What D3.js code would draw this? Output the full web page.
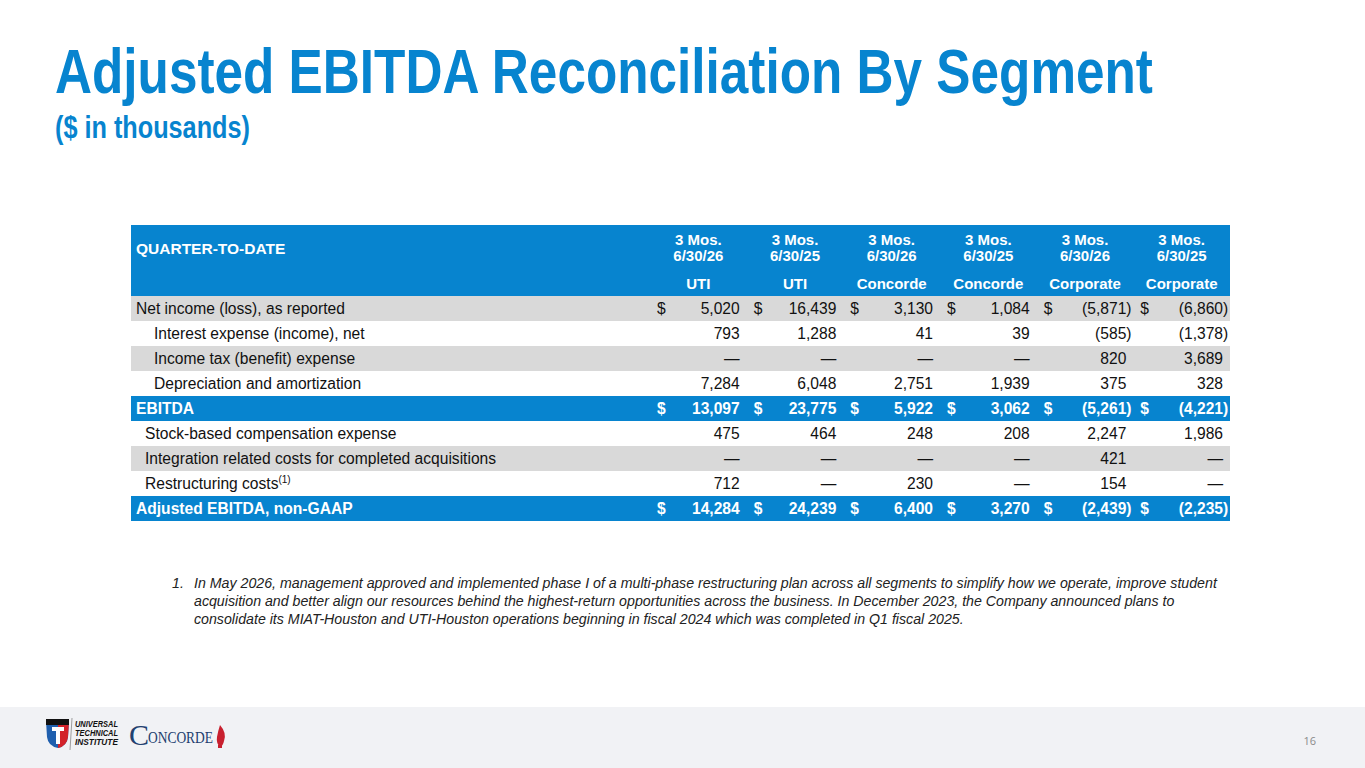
<!DOCTYPE html>
<html>
<head>
<meta charset="utf-8">
<script src="https://cdn.jsdelivr.net/npm/d3@7/dist/d3.min.js"></script>
<style>
  html, body { margin: 0; padding: 0; background: #fff; }
  svg { display: block; }
</style>
</head>
<body>
<svg id="chart" width="1365" height="768"></svg>
<script>
// ---------------- DATA ----------------
const titleText = "Adjusted EBITDA Reconciliation By Segment";
const subtitleText = "($ in thousands)";
const sectionLabel = "QUARTER-TO-DATE";
const periodLabels = ["3 Mos.", "3 Mos.", "3 Mos.", "3 Mos.", "3 Mos.", "3 Mos."];
const dateLabels = ["6/30/26", "6/30/25", "6/30/26", "6/30/25", "6/30/26", "6/30/25"];
const segmentLabels = ["UTI", "UTI", "Concorde", "Concorde", "Corporate", "Corporate"];
const rowLabels = [
  "Net income (loss), as reported",
  "Interest expense (income), net",
  "Income tax (benefit) expense",
  "Depreciation and amortization",
  "EBITDA",
  "Stock-based compensation expense",
  "Integration related costs for completed acquisitions",
  "Restructuring costs",
  "Adjusted EBITDA, non-GAAP"
];
const rowFootnoteRefs = [null, null, null, null, null, null, null, "(1)", null];
const netIncome      = [5020, 16439, 3130, 1084, -5871, -6860];
const interestExp    = [793, 1288, 41, 39, -585, -1378];
const incomeTax      = [null, null, null, null, 820, 3689];
const depreciation   = [7284, 6048, 2751, 1939, 375, 328];
const ebitda         = [13097, 23775, 5922, 3062, -5261, -4221];
const stockComp      = [475, 464, 248, 208, 2247, 1986];
const integration    = [null, null, null, null, 421, null];
const restructuring  = [712, null, 230, null, 154, null];
const adjustedEbitda = [14284, 24239, 6400, 3270, -2439, -2235];
const rowValues = [netIncome, interestExp, incomeTax, depreciation, ebitda,
                   stockComp, integration, restructuring, adjustedEbitda];
const footnoteNumber = "1.";
const footnoteLines = [
  "In May 2026, management approved and implemented phase I of a multi-phase restructuring plan across all segments to simplify how we operate, improve student",
  "acquisition and better align our resources behind the highest-return opportunities across the business. In December 2023, the Company announced plans to",
  "consolidate its MIAT-Houston and UTI-Houston operations beginning in fiscal 2024 which was completed in Q1 fiscal 2025."
];
const pageNumber = "16";

// ---------------- STRUCTURE ----------------
const totalRows = new Set([4, 8]);          // blue total rows
const dollarRows = new Set([0, 4, 8]);      // rows showing $ signs
const grayRows = new Set([0, 2, 6]);        // shaded rows
const indentLevel = [0, 2, 2, 2, 0, 1, 1, 1, 0];

// ---------------- DRAW ----------------
const BLUE = "#0784CF";
const GRAY = "#D9D9D9";
const TEXT = "#111111";
const FONT = "'Liberation Sans', Arial, Helvetica, sans-serif";
const NARROW = "'Liberation Sans Narrow', 'Arial Narrow', 'Liberation Sans', Arial, sans-serif";

const svg = d3.select("#chart");

// title: fitted horizontally by a scale transform
function fittedText(str, x0, y0, size, width) {
  const t = svg.append("text")
    .attr("x", 0).attr("y", 0)
    .attr("font-family", NARROW).attr("font-weight", "bold")
    .attr("font-size", size).attr("fill", BLUE)
    .text(str);
  const w = t.node().getComputedTextLength();
  t.attr("transform", `translate(${x0},${y0}) scale(${width / w},1)`);
  return t;
}
fittedText(titleText, 55, 93, 63, 1098);
fittedText(subtitleText, 55, 138, 31, 195);

// table scales
const tableLeft = 131, tableRight = 1230;
const x = d3.scaleBand().domain(d3.range(segmentLabels.length)).range([650, tableRight]);
const y = d3.scaleBand().domain(d3.range(rowLabels.length)).range([296, 521]);
const headerTop = 225, headerBottom = 296;

// header background
svg.append("rect")
  .attr("x", tableLeft).attr("y", headerTop)
  .attr("width", tableRight - tableLeft).attr("height", headerBottom - headerTop)
  .attr("fill", BLUE);

svg.append("text")
  .attr("x", 136).attr("y", 254)
  .attr("font-family", FONT).attr("font-weight", "bold").attr("font-size", 15.5)
  .attr("fill", "#fff").text(sectionLabel);

const hdr = svg.append("g").attr("font-family", FONT).attr("font-weight", "bold")
  .attr("font-size", 15).attr("fill", "#fff").attr("text-anchor", "middle");
hdr.selectAll("text.p").data(periodLabels).join("text").attr("class", "p")
  .attr("x", (d, i) => x(i) + x.bandwidth() / 2).attr("y", 245).text(d => d);
hdr.selectAll("text.d").data(dateLabels).join("text").attr("class", "d")
  .attr("x", (d, i) => x(i) + x.bandwidth() / 2).attr("y", 261).text(d => d);
hdr.selectAll("text.s").data(segmentLabels).join("text").attr("class", "s")
  .attr("x", (d, i) => x(i) + x.bandwidth() / 2).attr("y", 289).text(d => d);

// rows
const rows = svg.append("g").selectAll("g.row").data(rowLabels).join("g")
  .attr("class", "row")
  .attr("transform", (d, i) => `translate(0,${y(i)})`);

rows.append("rect")
  .attr("x", tableLeft).attr("y", 0)
  .attr("width", tableRight - tableLeft).attr("height", y.bandwidth())
  .attr("fill", (d, i) => totalRows.has(i) ? BLUE : grayRows.has(i) ? GRAY : "none");

const indentPx = [136, 145, 154];
const labelText = rows.append("text")
  .attr("x", (d, i) => indentPx[indentLevel[i]])
  .attr("y", 18)
  .attr("font-family", FONT).attr("font-size", 15.6)
  .attr("font-weight", (d, i) => totalRows.has(i) ? "bold" : "normal")
  .attr("fill", (d, i) => totalRows.has(i) ? "#fff" : TEXT);
labelText.append("tspan").text(d => d);
labelText.filter((d, i) => rowFootnoteRefs[i])
  .append("tspan").attr("font-size", 10).attr("dy", -6)
  .text(d => rowFootnoteRefs[rowLabels.indexOf(d)]);

const fmt = d3.format(",");
rows.each(function (label, ri) {
  const g = d3.select(this);
  const isTotal = totalRows.has(ri);
  const color = isTotal ? "#fff" : TEXT;
  const weight = isTotal ? "bold" : "normal";
  rowValues[ri].forEach((v, ci) => {
    const right = x(ci) + x.bandwidth() - 7;
    if (dollarRows.has(ri)) {
      g.append("text").attr("x", x(ci) + 7).attr("y", 18)
        .attr("font-family", FONT).attr("font-size", 15.6)
        .attr("font-weight", weight).attr("fill", color).text("$");
    }
    let str;
    if (v === null) str = "\u2014";
    else if (v < 0) str = "(" + fmt(-v);
    else str = fmt(v);
    g.append("text").attr("x", right).attr("y", 18)
      .attr("text-anchor", "end")
      .attr("font-family", FONT).attr("font-size", 15.6)
      .attr("font-weight", weight).attr("fill", color).text(str);
    if (v !== null && v < 0) {
      g.append("text").attr("x", right).attr("y", 18)
        .attr("font-family", FONT).attr("font-size", 15.6)
        .attr("font-weight", weight).attr("fill", color).text(")");
    }
  });
});

// footnote
const fn = svg.append("g").attr("font-family", FONT).attr("font-style", "italic")
  .attr("font-size", 14.2).attr("fill", "#222");
fn.append("text").attr("x", 172).attr("y", 588).text(footnoteNumber);
fn.selectAll("text.l").data(footnoteLines).join("text").attr("class", "l")
  .attr("x", 194).attr("y", (d, i) => 588 + i * 18.2).text(d => d);

// footer band
svg.append("rect").attr("x", 0).attr("y", 707).attr("width", 1365).attr("height", 61)
  .attr("fill", "#F1F2F5");
svg.append("text").attr("x", 1316).attr("y", 745).attr("text-anchor", "end")
  .attr("font-family", "'Open Sans', 'Liberation Sans', sans-serif").attr("font-size", 11)
  .attr("fill", "#8a8a8a").text(pageNumber);

// UTI logo (simplified)
const logo = svg.append("g");
logo.append("path").attr("d", "M46,721 L69,721 L68,737 Q67,746 58,748 Q48,746 47,737 Z").attr("fill", "#1f5fae");
logo.append("path").attr("d", "M58,721 L69,721 L68,737 Q67,746 58,748 Z").attr("fill", "#d3222a");
logo.append("rect").attr("x", 46).attr("y", 719).attr("width", 23).attr("height", 6).attr("fill", "#111");
logo.append("path").attr("d", "M52,727 L64,727 L64,731 L60,731 L60,744 L56,744 L56,731 L52,731 Z").attr("fill", "#fff");
logo.append("line").attr("x1", 72).attr("y1", 718).attr("x2", 70).attr("y2", 750)
  .attr("stroke", "#888").attr("stroke-width", 0.8);
const uti = logo.append("g").attr("font-family", FONT).attr("font-weight", "bold")
  .attr("font-style", "italic").attr("font-size", 8.5).attr("fill", "#111");
["UNIVERSAL", "TECHNICAL", "INSTITUTE"].forEach((t, i) => {
  uti.append("text").attr("x", 75).attr("y", 727 + i * 9).attr("textLength", 43)
    .attr("lengthAdjust", "spacingAndGlyphs").text(t);
});
// Concorde logo (simplified)
logo.append("text").attr("x", 129).attr("y", 745)
  .attr("font-family", "'Liberation Serif', 'DejaVu Serif', serif")
  .attr("fill", "#22406f").attr("font-size", 30).text("C");
logo.append("text").attr("x", 148).attr("y", 743)
  .attr("font-family", "'Liberation Serif', 'DejaVu Serif', serif")
  .attr("fill", "#22406f").attr("font-size", 17)
  .attr("textLength", 65).attr("lengthAdjust", "spacingAndGlyphs").text("ONCORDE");
logo.append("path").attr("d", "M220,725 Q227,733 224,741 Q223,746 220,747 Q216,743 217,737 Q218,731 220,725 Z").attr("fill", "#c8202f");
logo.append("rect").attr("x", 218).attr("y", 745).attr("width", 4).attr("height", 3).attr("fill", "#c8202f");
</script>
</body>
</html>
